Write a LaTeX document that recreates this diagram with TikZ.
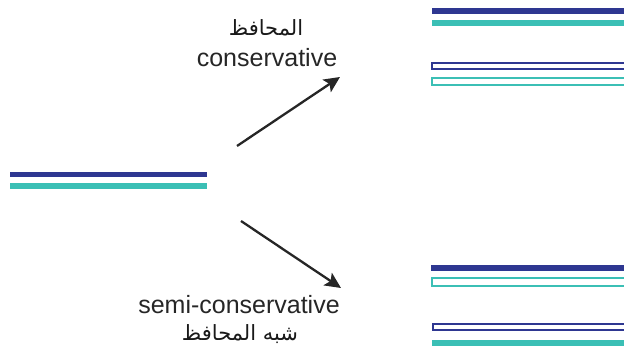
\documentclass[tikz,border=0pt]{standalone}
\usepackage{fontspec}
\setmainfont{Liberation Sans}
\newfontfamily\arabicfont[Script=Arabic]{DejaVu Sans}
\TeXXeTstate=1
\usetikzlibrary{arrows.meta}
\definecolor{strandA}{RGB}{46,55,145}
\definecolor{strandB}{RGB}{59,191,181}
\tikzset{
  solidA/.style={fill=strandA, draw=none},
  solidB/.style={fill=strandB, draw=none},
  hollowA/.style={draw=strandA, line width=2pt, fill=white},
  hollowB/.style={draw=strandB, line width=2pt, fill=white},
  lbl/.style={font=\fontsize{25}{28}\selectfont, text=black!85, inner sep=0pt},
  arlbl/.style={font=\arabicfont\fontsize{21}{24}\selectfont, text=black!90, inner sep=0pt},
  arrowline/.style={line width=2.3pt, black!85, -{Stealth[length=16pt,width=15pt,inset=3.5pt]}}
}
\begin{document}
\begin{tikzpicture}[x=1pt,y=-1pt]
\useasboundingbox (0,0) rectangle (624,352);
% parent duplex
\fill[solidA] (10,172) rectangle (207,177.5);
\fill[solidB] (10,183.5) rectangle (207,189);
% conservative products
\fill[solidA] (432,8) rectangle (624,14);
\fill[solidB] (432,20.5) rectangle (624,26);
\draw[hollowA] (431.5,63.5) rectangle (626,69.5);
\draw[hollowB] (431.5,78.5) rectangle (626,85.5);
% semi-conservative products
\fill[solidA] (430.5,265) rectangle (624,271);
\draw[hollowB] (431.5,278.5) rectangle (626,286);
\draw[hollowA] (432.5,324) rectangle (626,330.5);
\fill[solidB] (432,340) rectangle (624,346);
% arrows
\coordinate (upS) at (237,146);
\coordinate (upE) at (340,77);
\coordinate (dnS) at (241,221);
\coordinate (dnE) at (341,288);
\draw[arrowline] (upS) -- (upE);
\draw[arrowline] (dnS) -- (dnE);
% labels
\node[arlbl] (arTop) at (266,28) {\beginR المحافظ\endR};
\node[lbl] (enTop) at (267,58) {conservative};
\node[lbl] (enBot) at (239,305) {semi-conservative};
\node[arlbl] (arBot) at (240,334) {\beginR شبه المحافظ\endR};
\end{tikzpicture}
\end{document}
